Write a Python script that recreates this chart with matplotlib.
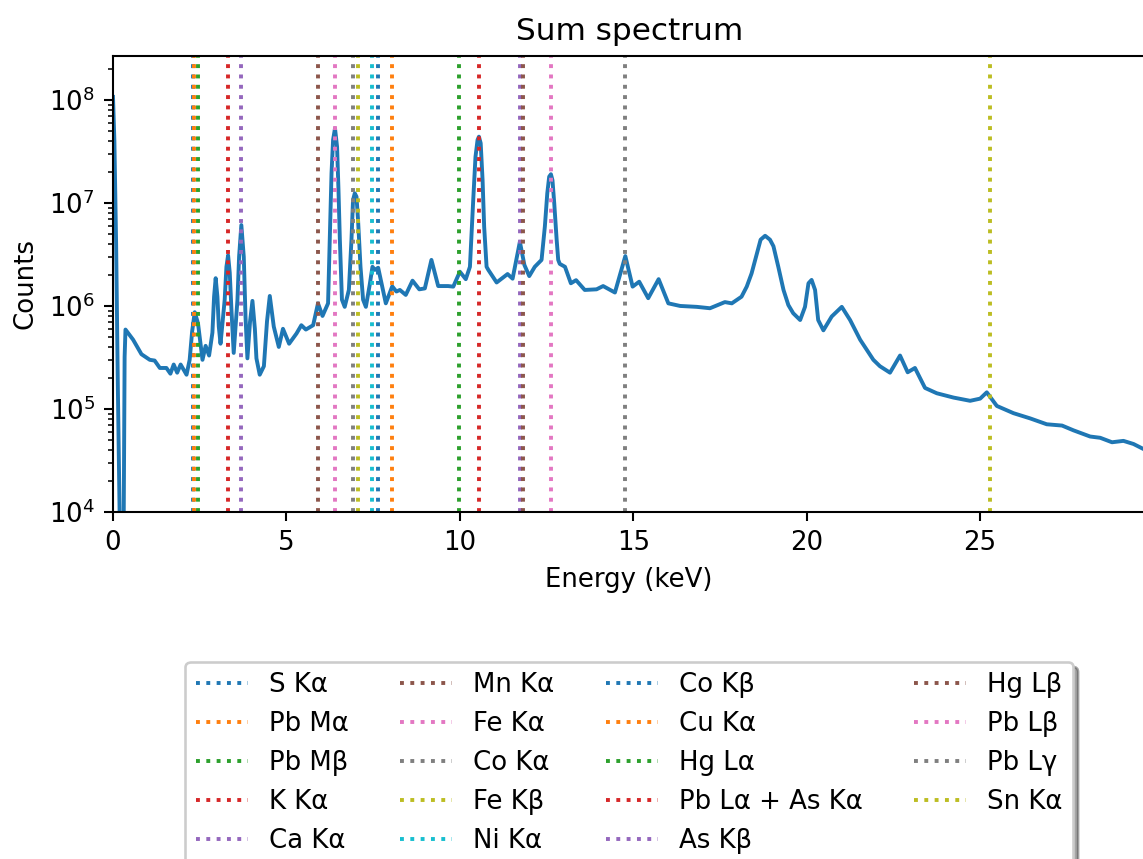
import numpy as np
import matplotlib
matplotlib.use('Agg')
import matplotlib.pyplot as plt

# sum spectrum (keV, counts)
energy = [0.00, 0.04, 0.09, 0.14, 0.19, 0.23, 0.28, 0.31, 0.335, 0.36,
          0.58, 0.82, 1.06, 1.20, 1.35, 1.54, 1.655, 1.75, 1.85, 1.95,
          2.12, 2.21, 2.28, 2.356, 2.45, 2.58, 2.67, 2.77, 2.866, 2.914,
          2.96, 3.01, 3.05, 3.10, 3.22, 3.27, 3.318, 3.366, 3.415, 3.48,
          3.588, 3.635, 3.70, 3.77, 3.82, 3.875, 3.95, 4.02, 4.09, 4.135,
          4.23, 4.35, 4.44, 4.52, 4.635, 4.78, 4.90, 5.077, 5.29, 5.43,
          5.56, 5.77, 5.91, 6.04, 6.20, 6.25, 6.30, 6.345, 6.40, 6.46,
          6.50, 6.54, 6.60, 6.68, 6.80, 6.875, 6.92, 6.97, 7.02, 7.065,
          7.135, 7.21, 7.29, 7.40, 7.48, 7.55, 7.645, 7.865, 8.05, 8.17,
          8.27, 8.44, 8.635, 8.83, 8.99, 9.18, 9.375, 9.66, 9.81, 10.00,
          10.17, 10.29, 10.385, 10.45, 10.51, 10.55, 10.60, 10.655, 10.70, 10.77,
          10.82, 11.06, 11.375, 11.52, 11.73, 11.86, 12.00, 12.16, 12.31, 12.355,
          12.45, 12.52, 12.575, 12.625, 12.67, 12.72, 12.79, 12.835, 12.88, 13.03,
          13.20, 13.35, 13.60, 13.94, 14.13, 14.47, 14.77, 14.98, 15.17, 15.43,
          15.73, 16.01, 16.35, 16.83, 17.21, 17.64, 17.84, 18.12, 18.27, 18.41,
          18.56, 18.67, 18.80, 18.94, 19.04, 19.18, 19.33, 19.47, 19.61, 19.81,
          19.95, 20.05, 20.14, 20.24, 20.33, 20.48, 20.72, 21.01, 21.25, 21.54,
          21.92, 22.11, 22.40, 22.69, 22.91, 23.12, 23.41, 23.75, 24.23, 24.71,
          25.00, 25.19, 25.48, 25.96, 26.44, 26.92, 27.36, 27.69, 28.17, 28.46,
          28.80, 29.13, 29.42, 29.76]
counts = [1.07e8, 4.0e7, 4.0e6, 1.6e5, 1.0e4, 6.0e2, 6.0e2, 1.0e4, 3.2e5, 5.9e5,
          4.7e5, 3.4e5, 3.0e5, 2.95e5, 2.5e5, 2.5e5, 2.2e5, 2.7e5, 2.25e5, 2.7e5,
          2.15e5, 3.0e5, 5.6e5, 8.7e5, 6.8e5, 3.0e5, 4.1e5, 3.3e5, 5.5e5, 1.23e6,
          1.86e6, 1.23e6, 6.3e5, 4.3e5, 1.15e6, 2.4e6, 3.1e6, 2.1e6, 9.1e5, 3.5e5,
          1.15e6, 3.0e6, 6.1e6, 3.0e6, 7.9e5, 3.1e5, 7.0e5, 1.12e6, 6.0e5, 3.1e5,
          2.15e5, 2.6e5, 7.1e5, 1.25e6, 6.3e5, 4.0e5, 6.0e5, 4.3e5, 5.4e5, 6.5e5,
          5.9e5, 6.5e5, 1.06e6, 8.0e5, 1.06e6, 4.4e6, 1.95e7, 4.1e7, 5.3e7, 3.5e7,
          1.35e7, 4.4e6, 1.15e6, 9.8e5, 1.43e6, 4.4e6, 1.07e7, 1.24e7, 1.15e7, 6.8e6,
          2.4e6, 1.15e6, 9.8e5, 1.6e6, 2.4e6, 2.24e6, 2.35e6, 1.06e6, 1.55e6, 1.38e6,
          1.43e6, 1.28e6, 1.76e6, 1.45e6, 1.48e6, 2.8e6, 1.56e6, 1.56e6, 1.54e6, 2.15e6,
          1.82e6, 2.4e6, 1.07e7, 2.8e7, 4.1e7, 4.4e7, 3.8e7, 1.66e7, 5.9e6, 2.4e6,
          2.24e6, 1.69e6, 2.04e6, 1.84e6, 4.2e6, 2.5e6, 1.95e6, 2.4e6, 2.7e6, 2.8e6,
          5.9e6, 1.24e7, 1.8e7, 1.9e7, 1.66e7, 1.0e7, 4.4e6, 2.8e6, 2.56e6, 2.4e6,
          1.66e6, 1.78e6, 1.43e6, 1.45e6, 1.56e6, 1.35e6, 3.05e6, 1.54e6, 1.72e6, 1.19e6,
          1.82e6, 1.06e6, 1.0e6, 9.8e5, 9.5e5, 1.09e6, 1.06e6, 1.23e6, 1.54e6, 2.07e6,
          3.2e6, 4.4e6, 4.8e6, 4.4e6, 3.8e6, 2.4e6, 1.43e6, 1.02e6, 8.5e5, 7.3e5,
          9.8e5, 1.66e6, 1.79e6, 1.43e6, 7.3e5, 5.8e5, 7.9e5, 9.8e5, 7.3e5, 4.7e5,
          3.0e5, 2.6e5, 2.25e5, 3.3e5, 2.27e5, 2.5e5, 1.6e5, 1.42e5, 1.29e5, 1.2e5,
          1.26e5, 1.45e5, 1.07e5, 9.1e4, 8.1e4, 7.1e4, 6.9e4, 6.2e4, 5.4e4, 5.25e4,
          4.75e4, 4.9e4, 4.57e4, 4.0e4]

# emission lines marked on the plot
line_names = ['S Kα', 'Pb Mα', 'Pb Mβ', 'K Kα', 'Ca Kα', 'Mn Kα', 'Fe Kα',
              'Co Kα', 'Fe Kβ', 'Ni Kα', 'Co Kβ', 'Cu Kα', 'Hg Lα',
              'Pb Lα + As Kα', 'As Kβ', 'Hg Lβ', 'Pb Lβ', 'Pb Lγ', 'Sn Kα']
line_energy = [2.307, 2.346, 2.443, 3.314, 3.692, 5.899, 6.404,
               6.930, 7.058, 7.478, 7.649, 8.048, 9.989,
               10.551, 11.726, 11.823, 12.614, 14.764, 25.271]

DPI = 187
fig = plt.figure(figsize=(1143 / DPI, 859 / DPI), dpi=DPI)
ax = fig.add_axes([113 / 1143, 0.404, 1.002 - 113 / 1143, 0.5308])

ax.plot(energy, counts, color='C0')
for i, (name, e) in enumerate(zip(line_names, line_energy)):
    ax.axvline(e, linestyle=':', color='C%d' % (i % 10), label=name)

ax.set_yscale('log')
ax.set_xlim(0, 29.76)
ax.set_ylim(1e4, 2.67e8)
ax.set_xlabel('Energy (keV)')
ax.set_ylabel('Counts')
ax.set_title('Sum spectrum')
ax.legend(loc='upper center', bbox_to_anchor=(0.5, -0.3), ncol=4, shadow=True)

fig.savefig('out.png', dpi=DPI)
